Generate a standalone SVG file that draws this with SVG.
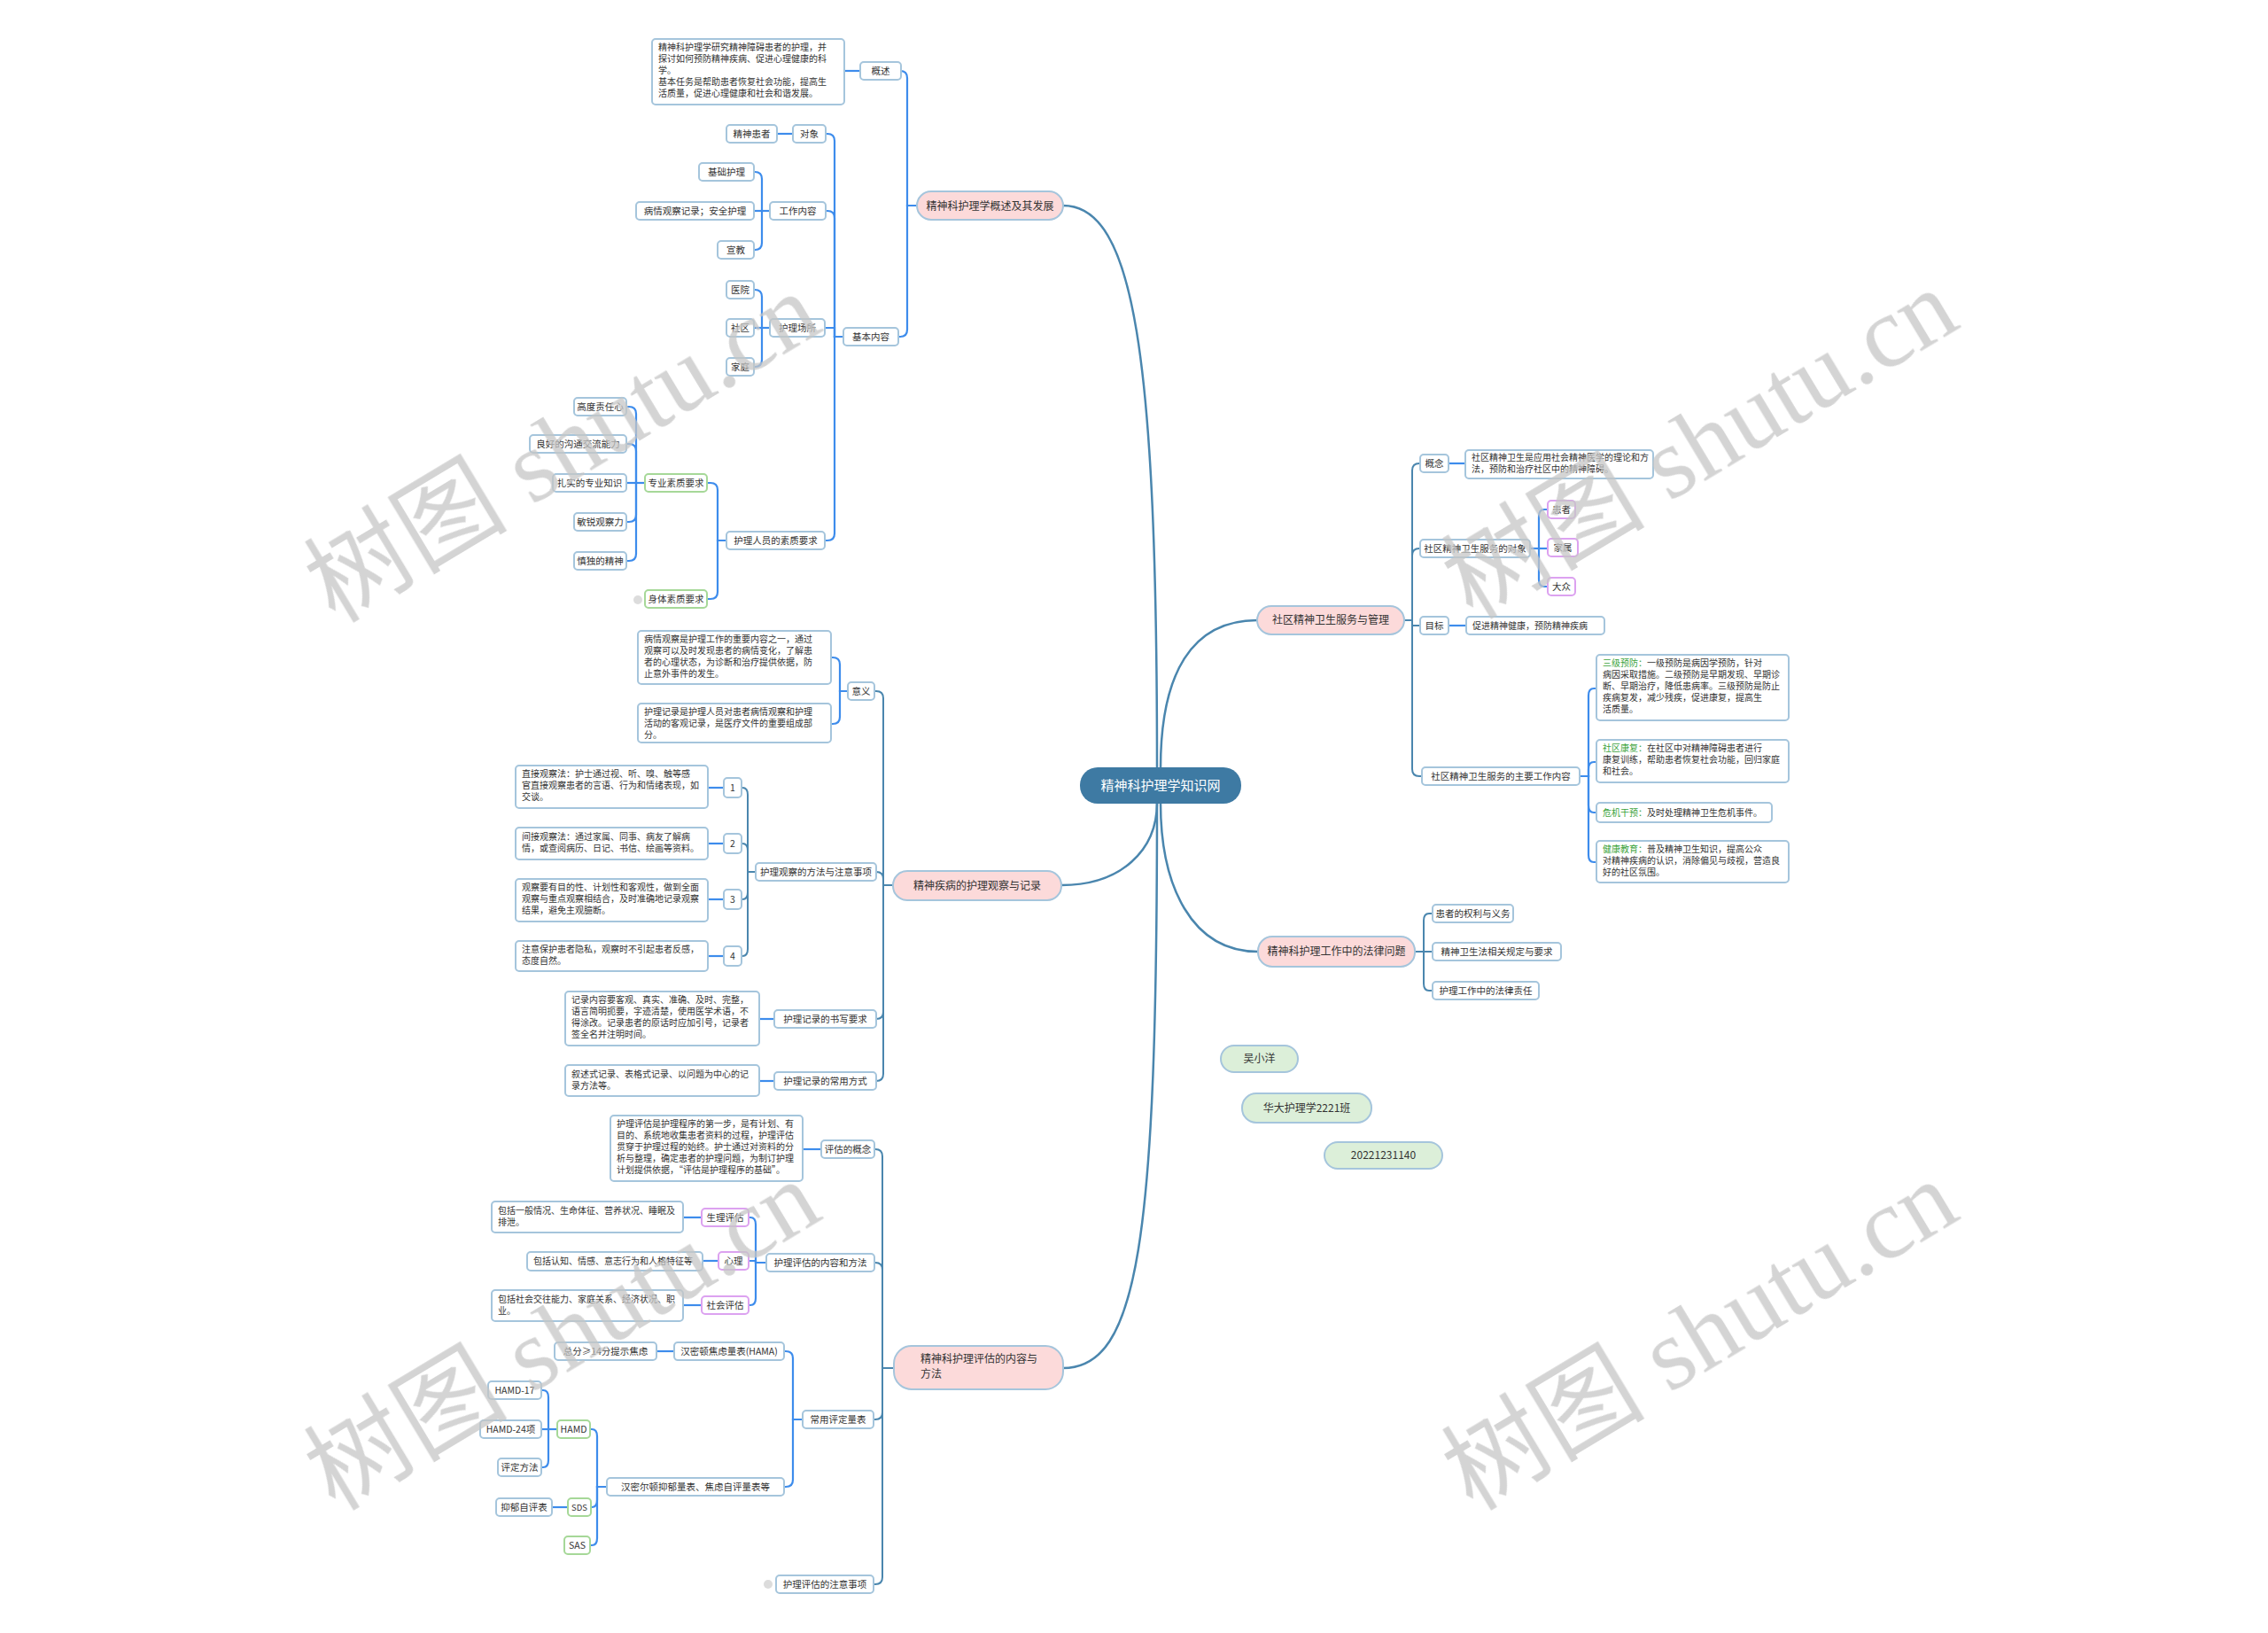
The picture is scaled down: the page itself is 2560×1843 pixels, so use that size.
<svg xmlns="http://www.w3.org/2000/svg" width="2560" height="1843" viewBox="0 0 2560 1843">
<style>
text{font-family:"Noto Sans CJK SC","Noto Sans",sans-serif;fill:#333}
.n rect{fill:#fff;stroke:#a5c5dc;stroke-width:2}
.gn rect{stroke:#a6d898}
.pn rect{stroke:#dca2f0}
.k rect{fill:#fcdada;stroke:#a5c5dc;stroke-width:2}
.z rect{fill:#dcefd9;stroke:#a5c5dc;stroke-width:2}
.s{font-size:10.5px;text-anchor:middle}
.b{font-size:10px}
.m{font-size:12px;text-anchor:middle}
.ct{fill:#fff;font-size:15px;text-anchor:middle}
.hl{fill:#3ba33b}
.c1{fill:none;stroke:#4a86ae;stroke-width:2.5}
.c2{fill:none;stroke:#3d8cec;stroke-width:2.2}
.cs{fill:none;stroke:#4a86ae;stroke-width:2}
.dot{fill:#dcdcdc}
.wm text{fill:#c6c6c6;font-size:115px}
.wc{font-family:"Noto Sans CJK SC",sans-serif}
.wl{font-family:"Liberation Serif",serif}
</style>

<g id="connectors">
<g class="c1">
<path d="M1200 232 C1280 232 1306 400 1306 867"/>
<path d="M1198 999 C1265 999 1306 960 1306 906"/>
<path d="M1200 1544 C1285 1544 1306 1400 1306 906"/>
<path d="M1419 700 C1345 700 1310 760 1310 867"/>
<path d="M1420 1074 C1345 1074 1310 1000 1310 906"/>
</g>
<g class="c2">
<path d="M1035 232 H1024 V88 Q1024 80 1016 80"/>
<path d="M1035 232 H1024 V372 Q1024 380 1016 380 H1014"/>
<path d="M971 80 H953"/>
<path d="M952 380 H942 V159 Q942 151 934 151 H932"/>
<path d="M952 380 H942 V246 Q942 238 934 238 H932"/>
<path d="M952 380 H942 V370 H931"/>
<path d="M952 380 H942 V602 Q942 610 934 610 H931"/>
<path d="M895 151 H877"/>
<path d="M869 238 H860 V202 Q860 194 852 194 H851"/>
<path d="M869 238 H851"/>
<path d="M869 238 H860 V274 Q860 282 852 282 H851"/>
<path d="M869 370 H860 V335 Q860 327 852 327 H851"/>
<path d="M869 370 H851"/>
<path d="M869 370 H860 V406 Q860 414 852 414 H851"/>
<path d="M820 610 H810 V553 Q810 545 802 545 H798"/>
<path d="M820 610 H810 V668 Q810 676 802 676 H798"/>
<path d="M728 545 H718 V467 Q718 459 710 459 H707"/>
<path d="M728 545 H718 V509 Q718 501 710 501 H707"/>
<path d="M728 545 H707"/>
<path d="M728 545 H718 V581 Q718 589 710 589 H707"/>
<path d="M728 545 H718 V625 Q718 633 710 633 H707"/>
<path d="M957 780 H948 V750 Q948 742 940 742 H938"/>
<path d="M957 780 H948 V809 Q948 817 940 817 H938"/>
<path d="M817 889 H799"/>
<path d="M817 952 H799"/>
<path d="M817 1015 H799"/>
<path d="M817 1079 H799"/>
<path d="M874 1150 H857"/>
<path d="M874 1220 H857"/>
<path d="M927 1297 H906"/>
<path d="M865 1425 H853 V1382 Q853 1374 847 1374 H845"/>
<path d="M865 1425 H853 V1423 H845"/>
<path d="M865 1425 H853 V1465 Q853 1473 847 1473 H845"/>
<path d="M792 1374 H771"/>
<path d="M811 1423 H793"/>
<path d="M792 1473 H771"/>
<path d="M906 1602 H895 V1533 Q895 1525 887 1525 H885"/>
<path d="M906 1602 H895 V1670 Q895 1678 887 1678 H885"/>
<path d="M761 1525 H741"/>
<path d="M685 1678 H674 V1621 Q674 1613 668 1613 H666"/>
<path d="M685 1678 H674 V1693 Q674 1701 668 1701 H667"/>
<path d="M685 1678 H674 V1736 Q674 1744 668 1744 H666"/>
<path d="M629 1613 H619 V1577 Q619 1569 613 1569 H611"/>
<path d="M629 1613 H611"/>
<path d="M629 1613 H619 V1648 Q619 1656 613 1656 H611"/>
<path d="M641 1701 H623"/>
<path d="M1635 523 H1654"/>
<path d="M1727 619 H1737 V583 Q1737 575 1743 575 H1747"/>
<path d="M1727 619 H1747"/>
<path d="M1727 619 H1737 V654 Q1737 662 1743 662 H1747"/>
<path d="M1635 706 H1655"/>
<path d="M1783 876 H1793 V785 Q1793 777 1799 777 H1802"/>
<path d="M1783 876 H1793 V868 Q1793 860 1799 860 H1802"/>
<path d="M1783 876 H1793 V909 Q1793 917 1799 917 H1802"/>
<path d="M1783 876 H1793 V965 Q1793 973 1799 973 H1802"/>
</g>
<g class="cs">
<path d="M1008 999 H997 V788 Q997 780 989 780 H987"/>
<path d="M1008 999 H997 V992 Q997 984 989 984"/>
<path d="M1008 999 H997 V1142 Q997 1150 989 1150"/>
<path d="M1008 999 H997 V1212 Q997 1220 989 1220"/>
<path d="M853 984 H844 V897 Q844 889 838 889 H837"/>
<path d="M853 984 H844 V960 Q844 952 838 952 H837"/>
<path d="M853 984 H844 V1007 Q844 1015 838 1015 H837"/>
<path d="M853 984 H844 V1071 Q844 1079 838 1079 H837"/>
<path d="M1009 1544 H996 V1305 Q996 1297 988 1297 H987"/>
<path d="M1009 1544 H996 V1433 Q996 1425 988 1425 H987"/>
<path d="M1009 1544 H996 V1594 Q996 1602 988 1602 H986"/>
<path d="M1009 1544 H996 V1780 Q996 1788 988 1788 H986"/>
<path d="M1585 700 H1594 V531 Q1594 523 1602 523 H1603"/>
<path d="M1585 700 H1594 V627 Q1594 619 1602 619 H1603"/>
<path d="M1585 700 H1594 V706 H1603"/>
<path d="M1585 700 H1594 V868 Q1594 876 1602 876 H1605"/>
<path d="M1597 1074 H1607 V1039 Q1607 1031 1613 1031 H1617"/>
<path d="M1597 1074 H1617"/>
<path d="M1597 1074 H1607 V1110 Q1607 1118 1613 1118 H1617"/>
</g>
<circle class="dot" cx="720" cy="677" r="5"/>
<circle class="dot" cx="867" cy="1788" r="5"/>
</g>

<g id="center"><rect x="1219" y="866" width="182" height="41" rx="20" fill="#3e7aa3"/><text class="ct" x="1310" y="892">精神科护理学知识网</text></g>

<g id="n1" class="k"><rect x="1035" y="216" width="165" height="32" rx="16"/><text class="m" x="1117.5" y="236.5">精神科护理学概述及其发展</text></g>
<g id="n2" class="k"><rect x="1008" y="983" width="190" height="33" rx="16"/><text class="m" x="1103" y="1004">精神疾病的护理观察与记录</text></g>
<g id="n3" class="k"><rect x="1009" y="1519" width="191" height="49" rx="20"/><text x="1039" y="1538" style="font-size:12px">精神科护理评估的内容与<tspan x="1039" dy="17">方法</tspan></text></g>
<g id="n4" class="k"><rect x="1419" y="684" width="166" height="32" rx="16"/><text class="m" x="1502" y="704">社区精神卫生服务与管理</text></g>
<g id="n5" class="k"><rect x="1420" y="1057" width="177" height="34" rx="16"/><text class="m" x="1508.5" y="1078">精神科护理工作中的法律问题</text></g>

<g id="a" class="n"><rect x="971" y="70" width="46" height="20" rx="4"/><text class="s" x="994" y="84">概述</text></g>
<g id="a-box" class="n"><rect x="736" y="44" width="217" height="74" rx="4"/><text class="b" x="743" y="57">精神科护理学研究精神障碍患者的护理，并<tspan x="743" dy="13">探讨如何预防精神疾病、促进心理健康的科</tspan><tspan x="743" dy="13">学。</tspan><tspan x="743" dy="13">基本任务是帮助患者恢复社会功能，提高生</tspan><tspan x="743" dy="13">活质量，促进心理健康和社会和谐发展。</tspan></text></g>
<g id="b" class="n"><rect x="952" y="370" width="62" height="20" rx="4"/><text class="s" x="983" y="384">基本内容</text></g>
<g id="c1" class="n"><rect x="895" y="141" width="37" height="20" rx="4"/><text class="s" x="913.5" y="155">对象</text></g>
<g id="c1-1" class="n"><rect x="820" y="141" width="57" height="20" rx="4"/><text class="s" x="848.5" y="155">精神患者</text></g>
<g id="c2" class="n"><rect x="869" y="228" width="63" height="20" rx="4"/><text class="s" x="900.5" y="242">工作内容</text></g>
<g id="c2-1" class="n"><rect x="789" y="184" width="62" height="20" rx="4"/><text class="s" x="820" y="198">基础护理</text></g>
<g id="c2-2" class="n"><rect x="718" y="228" width="133" height="20" rx="4"/><text class="s" x="784.5" y="242">病情观察记录；安全护理</text></g>
<g id="c2-3" class="n"><rect x="810" y="272" width="41" height="20" rx="4"/><text class="s" x="830.5" y="286">宣教</text></g>
<g id="c3" class="n"><rect x="869" y="360" width="62" height="20" rx="4"/><text class="s" x="900" y="374">护理场所</text></g>
<g id="c3-1" class="n"><rect x="820" y="317" width="31" height="20" rx="4"/><text class="s" x="835.5" y="331">医院</text></g>
<g id="c3-2" class="n"><rect x="820" y="360" width="31" height="20" rx="4"/><text class="s" x="835.5" y="374">社区</text></g>
<g id="c3-3" class="n"><rect x="820" y="404" width="31" height="20" rx="4"/><text class="s" x="835.5" y="418">家庭</text></g>
<g id="c4" class="n"><rect x="820" y="600" width="111" height="20" rx="4"/><text class="s" x="875.5" y="614">护理人员的素质要求</text></g>
<g id="g1" class="n gn"><rect x="728" y="535" width="70" height="20" rx="4"/><text class="s" x="763" y="549">专业素质要求</text></g>
<g id="g2" class="n gn"><rect x="728" y="666" width="70" height="20" rx="4"/><text class="s" x="763" y="680">身体素质要求</text></g>
<g id="g1-1" class="n"><rect x="648" y="449" width="59" height="20" rx="4"/><text class="s" x="677.5" y="463">高度责任心</text></g>
<g id="g1-2" class="n"><rect x="598" y="491" width="109" height="20" rx="4"/><text class="s" x="652.5" y="505">良好的沟通交流能力</text></g>
<g id="g1-3" class="n"><rect x="624" y="535" width="83" height="20" rx="4"/><text class="s" x="665.5" y="549">扎实的专业知识</text></g>
<g id="g1-4" class="n"><rect x="648" y="579" width="59" height="20" rx="4"/><text class="s" x="677.5" y="593">敏锐观察力</text></g>
<g id="g1-5" class="n"><rect x="648" y="623" width="59" height="20" rx="4"/><text class="s" x="677.5" y="637">慎独的精神</text></g>

<g id="d1" class="n"><rect x="957" y="770" width="30" height="20" rx="4"/><text class="s" x="972" y="784">意义</text></g>
<g id="d1-1" class="n"><rect x="720" y="712" width="218" height="60" rx="4"/><text class="b" x="727" y="725">病情观察是护理工作的重要内容之一，通过<tspan x="727" dy="13">观察可以及时发现患者的病情变化，了解患</tspan><tspan x="727" dy="13">者的心理状态，为诊断和治疗提供依据，防</tspan><tspan x="727" dy="13">止意外事件的发生。</tspan></text></g>
<g id="d1-2" class="n"><rect x="720" y="794" width="218" height="44" rx="4"/><text class="b" x="727" y="807">护理记录是护理人员对患者病情观察和护理<tspan x="727" dy="13">活动的客观记录，是医疗文件的重要组成部</tspan><tspan x="727" dy="13">分。</tspan></text></g>
<g id="d2" class="n"><rect x="853" y="974" width="136" height="20" rx="4"/><text class="s" x="921" y="988">护理观察的方法与注意事项</text></g>
<g id="num1" class="n"><rect x="817" y="878" width="20" height="22" rx="4"/><text class="s" x="827" y="893">1</text></g>
<g id="num2" class="n"><rect x="817" y="941" width="20" height="22" rx="4"/><text class="s" x="827" y="956">2</text></g>
<g id="num3" class="n"><rect x="817" y="1004" width="20" height="22" rx="4"/><text class="s" x="827" y="1019">3</text></g>
<g id="num4" class="n"><rect x="817" y="1068" width="20" height="22" rx="4"/><text class="s" x="827" y="1083">4</text></g>
<g id="b1" class="n"><rect x="582" y="864" width="217" height="48" rx="4"/><text class="b" x="589" y="877">直接观察法：护士通过视、听、嗅、触等感<tspan x="589" dy="13">官直接观察患者的言语、行为和情绪表现，如</tspan><tspan x="589" dy="13">交谈。</tspan></text></g>
<g id="b2" class="n"><rect x="582" y="934" width="217" height="36" rx="4"/><text class="b" x="589" y="948">间接观察法：通过家属、同事、病友了解病<tspan x="589" dy="13">情，或查阅病历、日记、书信、绘画等资料。</tspan></text></g>
<g id="b3" class="n"><rect x="582" y="992" width="217" height="48" rx="4"/><text class="b" x="589" y="1005">观察要有目的性、计划性和客观性，做到全面<tspan x="589" dy="13">观察与重点观察相结合，及时准确地记录观察</tspan><tspan x="589" dy="13">结果，避免主观臆断。</tspan></text></g>
<g id="b4" class="n"><rect x="582" y="1062" width="217" height="34" rx="4"/><text class="b" x="589" y="1075">注意保护患者隐私，观察时不引起患者反感，<tspan x="589" dy="13">态度自然。</tspan></text></g>
<g id="d3" class="n"><rect x="874" y="1140" width="115" height="20" rx="4"/><text class="s" x="931.5" y="1154">护理记录的书写要求</text></g>
<g id="d3-1" class="n"><rect x="638" y="1119" width="219" height="61" rx="4"/><text class="b" x="645" y="1132">记录内容要客观、真实、准确、及时、完整，<tspan x="645" dy="13">语言简明扼要，字迹清楚，使用医学术语，不</tspan><tspan x="645" dy="13">得涂改。记录患者的原话时应加引号，记录者</tspan><tspan x="645" dy="13">签全名并注明时间。</tspan></text></g>
<g id="d4" class="n"><rect x="874" y="1210" width="115" height="20" rx="4"/><text class="s" x="931.5" y="1224">护理记录的常用方式</text></g>
<g id="d4-1" class="n"><rect x="638" y="1202" width="219" height="35" rx="4"/><text class="b" x="645" y="1216">叙述式记录、表格式记录、以问题为中心的记<tspan x="645" dy="13">录方法等。</tspan></text></g>

<g id="e1" class="n"><rect x="927" y="1287" width="60" height="20" rx="4"/><text class="s" x="957" y="1301">评估的概念</text></g>
<g id="e1-1" class="n"><rect x="689" y="1259" width="217" height="74" rx="4"/><text class="b" x="696" y="1272">护理评估是护理程序的第一步，是有计划、有<tspan x="696" dy="13">目的、系统地收集患者资料的过程，护理评估</tspan><tspan x="696" dy="13">贯穿于护理过程的始终。护士通过对资料的分</tspan><tspan x="696" dy="13">析与整理，确定患者的护理问题，为制订护理</tspan><tspan x="696" dy="13">计划提供依据，“评估是护理程序的基础”。</tspan></text></g>
<g id="e2" class="n"><rect x="865" y="1415" width="122" height="20" rx="4"/><text class="s" x="926" y="1429">护理评估的内容和方法</text></g>
<g id="p1" class="n pn"><rect x="792" y="1364" width="53" height="20" rx="4"/><text class="s" x="818.5" y="1378">生理评估</text></g>
<g id="p1-1" class="n"><rect x="555" y="1356" width="216" height="35" rx="4"/><text class="b" x="562" y="1370">包括一般情况、生命体征、营养状况、睡眠及<tspan x="562" dy="13">排泄。</tspan></text></g>
<g id="p2" class="n pn"><rect x="811" y="1413" width="34" height="20" rx="4"/><text class="s" x="828" y="1427">心理</text></g>
<g id="p2-1" class="n"><rect x="595" y="1413" width="198" height="21" rx="4"/><text class="b" x="602" y="1427">包括认知、情感、意志行为和人格特征等</text></g>
<g id="p3" class="n pn"><rect x="792" y="1463" width="53" height="20" rx="4"/><text class="s" x="818.5" y="1477">社会评估</text></g>
<g id="p3-1" class="n"><rect x="555" y="1456" width="216" height="35" rx="4"/><text class="b" x="562" y="1470">包括社会交往能力、家庭关系、经济状况、职<tspan x="562" dy="13">业。</tspan></text></g>
<g id="e3" class="n"><rect x="906" y="1592" width="80" height="20" rx="4"/><text class="s" x="946" y="1606">常用评定量表</text></g>
<g id="f1" class="n"><rect x="761" y="1515" width="124" height="20" rx="4"/><text class="s" x="823" y="1529">汉密顿焦虑量表(HAMA)</text></g>
<g id="f1-1" class="n"><rect x="626" y="1515" width="115" height="20" rx="4"/><text class="s" x="683.5" y="1529">总分≥14分提示焦虑</text></g>
<g id="f2" class="n"><rect x="685" y="1668" width="200" height="20" rx="4"/><text class="s" x="785" y="1682">汉密尔顿抑郁量表、焦虑自评量表等</text></g>
<g id="h1" class="n gn"><rect x="629" y="1603" width="37" height="20" rx="4"/><text class="s" x="647.5" y="1617">HAMD</text></g>
<g id="h2" class="n gn"><rect x="641" y="1691" width="26" height="20" rx="4"/><text class="s" x="654" y="1705" style="font-size:9.5px">SDS</text></g>
<g id="h3" class="n gn"><rect x="637" y="1734" width="29" height="20" rx="4"/><text class="s" x="651.5" y="1748">SAS</text></g>
<g id="h1-1" class="n"><rect x="551" y="1559" width="60" height="20" rx="4"/><text class="s" x="581" y="1573">HAMD-17</text></g>
<g id="h1-2" class="n"><rect x="542" y="1603" width="69" height="20" rx="4"/><text class="s" x="576.5" y="1617">HAMD-24项</text></g>
<g id="h1-3" class="n"><rect x="562" y="1646" width="49" height="20" rx="4"/><text class="s" x="586.5" y="1660">评定方法</text></g>
<g id="h2-1" class="n"><rect x="560" y="1691" width="63" height="20" rx="4"/><text class="s" x="591.5" y="1705">抑郁自评表</text></g>
<g id="e4" class="n"><rect x="876" y="1778" width="110" height="20" rx="4"/><text class="s" x="931" y="1792">护理评估的注意事项</text></g>

<g id="r1" class="n"><rect x="1603" y="513" width="32" height="20" rx="4"/><text class="s" x="1619" y="527">概念</text></g>
<g id="r1-1" class="n"><rect x="1654" y="508" width="212" height="32" rx="4"/><text class="b" x="1661" y="520">社区精神卫生是应用社会精神医学的理论和方<tspan x="1661" dy="13">法，预防和治疗社区中的精神障碍。</tspan></text></g>
<g id="r2" class="n"><rect x="1603" y="609" width="124" height="20" rx="4"/><text class="s" x="1665" y="623">社区精神卫生服务的对象</text></g>
<g id="q1" class="n pn"><rect x="1747" y="565" width="31" height="20" rx="4"/><text class="s" x="1762.5" y="579">患者</text></g>
<g id="q2" class="n pn"><rect x="1747" y="608" width="34" height="20" rx="4"/><text class="s" x="1764" y="622">家属</text></g>
<g id="q3" class="n pn"><rect x="1747" y="652" width="31" height="20" rx="4"/><text class="s" x="1762.5" y="666">大众</text></g>
<g id="r3" class="n"><rect x="1603" y="696" width="32" height="20" rx="4"/><text class="s" x="1619" y="710">目标</text></g>
<g id="r3-1" class="n"><rect x="1655" y="696" width="156" height="20" rx="4"/><text class="b" x="1662" y="710">促进精神健康，预防精神疾病</text></g>
<g id="r4" class="n"><rect x="1605" y="866" width="178" height="20" rx="4"/><text class="s" x="1694" y="880">社区精神卫生服务的主要工作内容</text></g>
<g id="s1" class="n"><rect x="1802" y="739" width="217" height="74" rx="4"/><text class="b" x="1809" y="752"><tspan class="hl">三级预防：</tspan>一级预防是病因学预防，针对<tspan x="1809" dy="13">病因采取措施。二级预防是早期发现、早期诊</tspan><tspan x="1809" dy="13">断、早期治疗，降低患病率。三级预防是防止</tspan><tspan x="1809" dy="13">疾病复发，减少残疾，促进康复，提高生</tspan><tspan x="1809" dy="13">活质量。</tspan></text></g>
<g id="s2" class="n"><rect x="1802" y="835" width="217" height="48" rx="4"/><text class="b" x="1809" y="848"><tspan class="hl">社区康复：</tspan>在社区中对精神障碍患者进行<tspan x="1809" dy="13">康复训练，帮助患者恢复社会功能，回归家庭</tspan><tspan x="1809" dy="13">和社会。</tspan></text></g>
<g id="s3" class="n"><rect x="1802" y="906" width="198" height="22" rx="4"/><text class="b" x="1809" y="921"><tspan class="hl">危机干预：</tspan>及时处理精神卫生危机事件。</text></g>
<g id="s4" class="n"><rect x="1802" y="949" width="217" height="47" rx="4"/><text class="b" x="1809" y="962"><tspan class="hl">健康教育：</tspan>普及精神卫生知识，提高公众<tspan x="1809" dy="13">对精神疾病的认识，消除偏见与歧视，营造良</tspan><tspan x="1809" dy="13">好的社区氛围。</tspan></text></g>

<g id="t1" class="n"><rect x="1617" y="1021" width="91" height="20" rx="4"/><text class="s" x="1662.5" y="1035">患者的权利与义务</text></g>
<g id="t2" class="n"><rect x="1617" y="1064" width="145" height="20" rx="4"/><text class="s" x="1689.5" y="1078">精神卫生法相关规定与要求</text></g>
<g id="t3" class="n"><rect x="1617" y="1108" width="120" height="20" rx="4"/><text class="s" x="1677" y="1122">护理工作中的法律责任</text></g>

<g id="z1" class="z"><rect x="1378" y="1180" width="87" height="30" rx="15"/><text class="m" x="1421.5" y="1199">吴小洋</text></g>
<g id="z2" class="z"><rect x="1402" y="1234" width="146" height="33" rx="16"/><text class="m" x="1475" y="1255">华大护理学2221班</text></g>
<g id="z3" class="z"><rect x="1495" y="1289" width="133" height="30" rx="15"/><text class="m" x="1561.5" y="1308">20221231140</text></g>

<g class="wm" opacity="0.75">
<text transform="translate(378,704) rotate(-31)"><tspan class="wc">树图</tspan><tspan class="wl"> shutu.cn</tspan></text>
<text transform="translate(1662,700) rotate(-31)"><tspan class="wc">树图</tspan><tspan class="wl"> shutu.cn</tspan></text>
<text transform="translate(378,1706) rotate(-31)"><tspan class="wc">树图</tspan><tspan class="wl"> shutu.cn</tspan></text>
<text transform="translate(1662,1706) rotate(-31)"><tspan class="wc">树图</tspan><tspan class="wl"> shutu.cn</tspan></text>
</g>
</svg>
